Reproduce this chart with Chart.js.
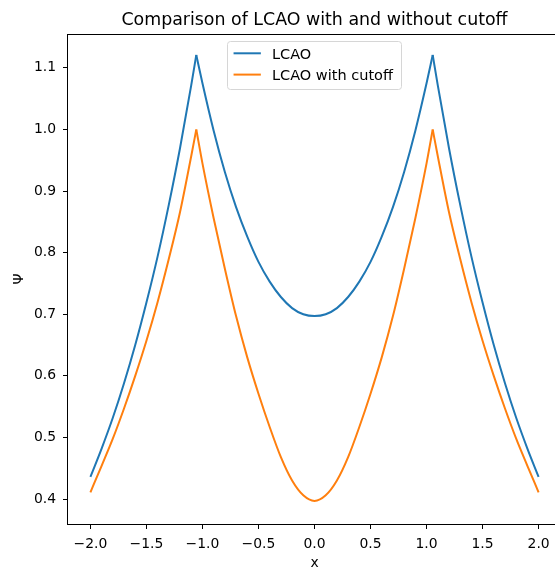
<!DOCTYPE html>
<html>
<head>
<meta charset="utf-8">
<script src="https://cdn.jsdelivr.net/npm/chart.js@4.4.0/dist/chart.umd.min.js"></script>
<style>
  html, body { margin: 0; padding: 0; overflow: hidden; background: #fff; }
  canvas { display: block; }
</style>
</head>
<body>
<canvas id="chart" width="575" height="572"></canvas>
<script>
// Sample positions along x (the two cusps sit at the nuclei, x = ±1.055)
const xValues = [
  -2.0, -1.9, -1.8, -1.7, -1.6, -1.5, -1.4, -1.3, -1.2, -1.1,
  -1.055,
  -1.0, -0.9, -0.8, -0.7, -0.6, -0.5, -0.4, -0.3, -0.2, -0.1,
  0.0,
  0.1, 0.2, 0.3, 0.4, 0.5, 0.6, 0.7, 0.8, 0.9, 1.0,
  1.055,
  1.1, 1.2, 1.3, 1.4, 1.5, 1.6, 1.7, 1.8, 1.9, 2.0
];

// Plain LCAO wavefunction
const lcao = [
  0.436, 0.482, 0.532, 0.588, 0.650, 0.719, 0.794, 0.878, 0.970, 1.072,
  1.121,
  1.075, 0.998, 0.931, 0.874, 0.826, 0.785, 0.753, 0.728, 0.710, 0.700,
  0.697,
  0.700, 0.710, 0.728, 0.753, 0.785, 0.826, 0.874, 0.931, 0.998, 1.075,
  1.121,
  1.072, 0.970, 0.878, 0.794, 0.719, 0.650, 0.588, 0.532, 0.482, 0.436
];

// LCAO with cutoff
const lcaoCutoff = [
  0.411, 0.454, 0.498, 0.547, 0.600, 0.657, 0.720, 0.790, 0.866, 0.957,
  1.000,
  0.945, 0.856, 0.774, 0.697, 0.630, 0.571, 0.517, 0.468, 0.430, 0.406,
  0.397,
  0.406, 0.430, 0.468, 0.517, 0.571, 0.630, 0.697, 0.774, 0.856, 0.945,
  1.000,
  0.957, 0.866, 0.790, 0.720, 0.657, 0.600, 0.547, 0.498, 0.454, 0.411
];

const seriesNames = ['LCAO', 'LCAO with cutoff'];
const seriesColors = ['#1f77b4', '#ff7f0e'];
const xTicks = [-2.0, -1.5, -1.0, -0.5, 0.0, 0.5, 1.0, 1.5, 2.0];
const yTicks = [0.4, 0.5, 0.6, 0.7, 0.8, 0.9, 1.0, 1.1];
const titleText = 'Comparison of LCAO with and without cutoff';
const xLabel = 'x';
const yLabel = 'Ψ';

const FONT = '"DejaVu Sans", "Liberation Sans", sans-serif';
const FS = 13.9;      // tick and axis label size
const LEG_FS = 14.5;  // legend text size
const TITLE_FS = 17.4;

// Each curve is drawn as three pieces (outer, inner, outer) so the
// cusps stay sharp while the smooth parts use monotone interpolation.
const cusps = xValues.reduce((acc, x, i) => (Math.abs(Math.abs(x) - 1.055) < 1e-9 ? acc.concat(i) : acc), []);
const pieces = [[0, cusps[0]], [cusps[0], cusps[1]], [cusps[1], xValues.length - 1]];

const datasets = [];
[lcao, lcaoCutoff].forEach((values, s) => {
  pieces.forEach(([a, b]) => {
    const pts = [];
    for (let i = a; i <= b; i++) pts.push({ x: xValues[i], y: values[i] });
    datasets.push({
      label: seriesNames[s],
      data: pts,
      borderColor: seriesColors[s],
      backgroundColor: seriesColors[s],
      borderWidth: 2,
      pointRadius: 0,
      fill: false,
      cubicInterpolationMode: 'monotone',
      order: s === 0 ? 1 : 0
    });
  });
});

function fmt(v) {
  return v.toFixed(1).replace('-', '\u2212');
}

const decorations = {
  id: 'decorations',
  afterDraw(chart) {
    const { ctx, chartArea: a } = chart;
    ctx.save();
    // frame around the axes
    ctx.strokeStyle = '#000';
    ctx.lineWidth = 1;
    ctx.strokeRect(Math.round(a.left) - 0.5, Math.round(a.top) + 0.5,
                   Math.round(a.right - a.left) + 1, Math.round(a.bottom - a.top));

    const cx = (a.left + a.right) / 2;
    const cy = (a.top + a.bottom) / 2;

    // title
    ctx.fillStyle = '#000';
    ctx.textAlign = 'center';
    ctx.textBaseline = 'alphabetic';
    ctx.font = TITLE_FS + 'px ' + FONT;
    ctx.fillText(titleText, cx, a.top - 9.5);

    // axis labels
    ctx.font = FS + 'px ' + FONT;
    ctx.fillText(xLabel, cx, 566.5);
    ctx.save();
    ctx.translate(22.5, cy);
    ctx.rotate(-Math.PI / 2);
    ctx.fillText(yLabel, 0, 0);
    ctx.restore();

    // legend
    ctx.font = LEG_FS + 'px ' + FONT;
    const tw = Math.max(...seriesNames.map(n => ctx.measureText(n).width));
    const pad = 0.4 * FS, hl = 2.0 * FS, htp = 0.8 * FS;
    const w = pad * 2 + hl + htp + tw + 3;
    const h = 48;
    const x0 = cx - w / 2;
    const y0 = a.top + 7.5;
    const r = 3;
    ctx.beginPath();
    ctx.moveTo(x0 + r, y0);
    ctx.lineTo(x0 + w - r, y0);
    ctx.quadraticCurveTo(x0 + w, y0, x0 + w, y0 + r);
    ctx.lineTo(x0 + w, y0 + h - r);
    ctx.quadraticCurveTo(x0 + w, y0 + h, x0 + w - r, y0 + h);
    ctx.lineTo(x0 + r, y0 + h);
    ctx.quadraticCurveTo(x0, y0 + h, x0, y0 + h - r);
    ctx.lineTo(x0, y0 + r);
    ctx.quadraticCurveTo(x0, y0, x0 + r, y0);
    ctx.closePath();
    ctx.fillStyle = 'rgba(255,255,255,0.8)';
    ctx.fill();
    ctx.strokeStyle = '#d6d6d6';
    ctx.lineWidth = 1;
    ctx.stroke();

    ctx.textAlign = 'left';
    seriesNames.forEach((name, i) => {
      const ry = y0 + 11.8 + i * 21.3;
      ctx.strokeStyle = seriesColors[i];
      ctx.lineWidth = 2;
      ctx.beginPath();
      ctx.moveTo(x0 + pad + 0.5, ry);
      ctx.lineTo(x0 + pad + hl, ry);
      ctx.stroke();
      ctx.fillStyle = '#000';
      ctx.fillText(name, x0 + pad + hl + htp, ry + 5.8);
    });
    ctx.restore();
  }
};

new Chart(document.getElementById('chart'), {
  type: 'line',
  data: { datasets },
  plugins: [decorations],
  options: {
    responsive: false,
    animation: false,
    events: [],
    layout: { padding: { left: 0, right: 14, top: 34, bottom: 0 } },
    plugins: {
      legend: { display: false },
      title: { display: false },
      tooltip: { enabled: false }
    },
    scales: {
      x: {
        type: 'linear',
        min: -2.2,
        max: 2.2,
        afterBuildTicks: s => { s.ticks = xTicks.map(v => ({ value: v })); },
        afterFit: s => { s.height = 48; },
        border: { display: false },
        grid: { drawOnChartArea: false, drawTicks: true, tickLength: 5, color: '#000', lineWidth: 1 },
        ticks: {
          autoSkip: false, maxRotation: 0, padding: 7, color: '#000',
          font: { family: FONT, size: FS },
          callback: v => fmt(v)
        }
      },
      y: {
        type: 'linear',
        min: 0.3595,
        max: 1.155,
        afterBuildTicks: s => { s.ticks = yTicks.map(v => ({ value: v })); },
        afterFit: s => { s.width = 68; },
        border: { display: false },
        grid: { drawOnChartArea: false, drawTicks: true, tickLength: 5, color: '#000', lineWidth: 1 },
        ticks: {
          padding: 7, color: '#000',
          font: { family: FONT, size: FS },
          callback: v => fmt(v)
        }
      }
    }
  }
});
</script>
</body>
</html>
